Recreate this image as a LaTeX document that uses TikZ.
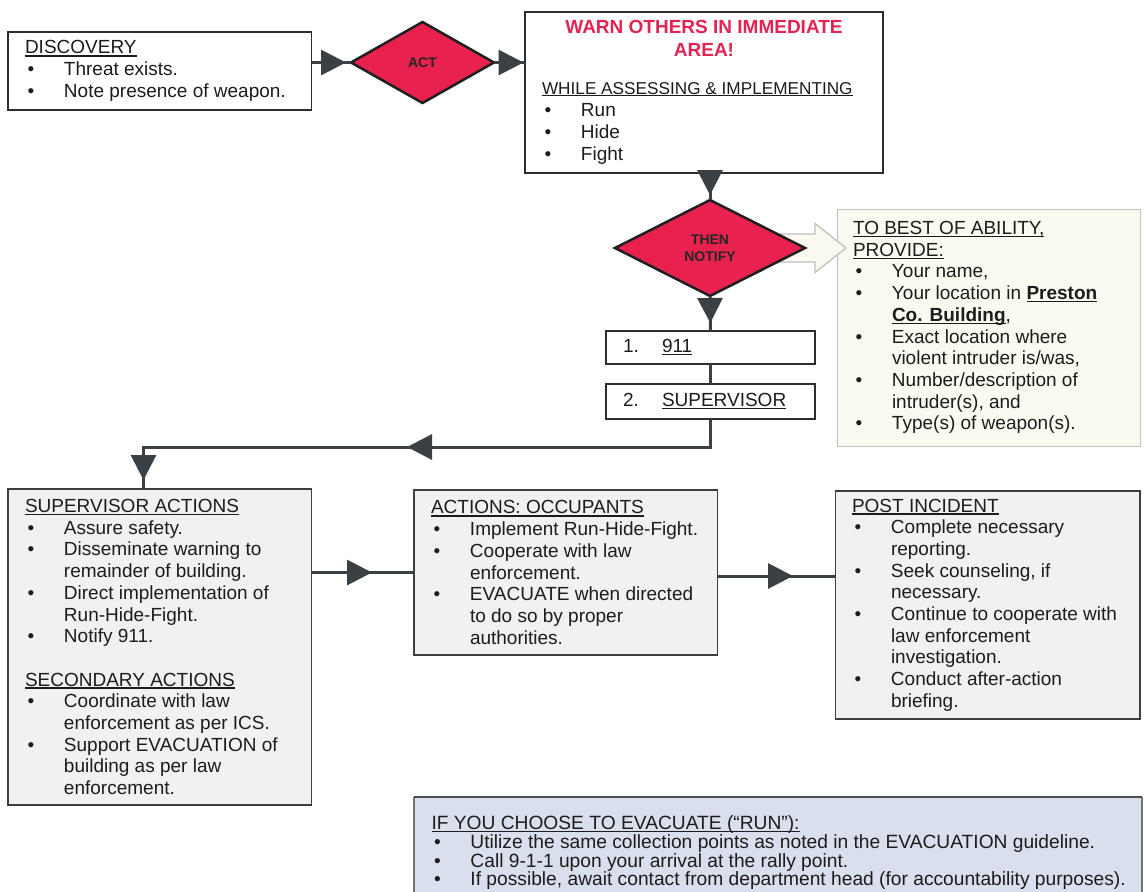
\documentclass[tikz,border=0pt]{standalone}
\usepackage{fontspec}
\setmainfont{Liberation Sans}
\usetikzlibrary{arrows.meta,decorations.markings,shapes.geometric,calc}

\definecolor{flowred}{RGB}{232,33,78}
\definecolor{warnred}{RGB}{226,36,82}
\definecolor{linec}{RGB}{58,64,68}
\definecolor{boxline}{RGB}{45,45,45}
\definecolor{panelfill}{RGB}{241,241,241}
\definecolor{panelline}{RGB}{62,62,62}
\definecolor{provfill}{RGB}{250,250,240}
\definecolor{provline}{RGB}{192,192,192}
\definecolor{evacfill}{RGB}{217,223,236}
\definecolor{bodytext}{RGB}{28,28,28}

% underline at a fixed depth below the baseline
\newsavebox\ulbox
\newcommand\undl[1]{\sbox\ulbox{#1}\rlap{\rule[-0.14em]{\wd\ulbox}{0.07em}}\usebox\ulbox}
% bullet item and continuation indent
\newcommand\itm{\makebox[39pt][l]{\hspace{2.5pt}\textbullet}}
\newcommand\contl{\hspace*{39pt}}

\pgfdeclarelayer{bglayer}
\pgfdeclarelayer{midlayer}
\pgfsetlayers{bglayer,midlayer,main}

\tikzset{
  box/.style={draw=boxline, line width=1.5pt, fill=white, inner sep=0pt, outer sep=0pt, anchor=north west},
  gbox/.style={box, fill=panelfill, draw=panelline, line width=1.3pt},
  txt/.style={inner sep=0pt, outer sep=0pt, align=left, anchor=west, text=bodytext},
  decision/.style={diamond, draw=black!88, line width=2.5pt, fill=flowred, inner sep=0pt, outer sep=0pt,
    font=\fontsize{14pt}{17pt}\selectfont\bfseries, text=black!85, align=center},
  conn/.style={draw=linec, line width=3pt},
  tipat/.style={postaction={decorate}, decoration={markings,
    mark=at position #1 with {\arrow{Triangle[length=25pt,width=25pt]}}}},
}

\begin{document}
\begin{tikzpicture}[x=1pt, y=-1pt, font=\fontsize{19pt}{21.7pt}\selectfont]
\useasboundingbox (0,0) rectangle (1144,892);
\begin{pgfonlayer}{bglayer}
\fill[white] (0,0) rectangle (1144,892);
\end{pgfonlayer}

% ---- top row ----
\node[box, minimum width=303.5pt, minimum height=78pt] (disc) at (8,32) {};
\node[txt] (discTxt) at ([xshift=17pt]disc.west)
  {\undl{DISCOVERY}\\ \itm Threat exists.\\ \itm Note presence of weapon.};

\node[decision, minimum width=143pt, minimum height=81pt] (act) at (422.5,62.5) {ACT};

\node[box, minimum width=358pt, minimum height=161pt] (warn) at (525,12) {};
\node[inner sep=0pt, align=center, text=warnred, font=\fontsize{19pt}{23pt}\selectfont\bfseries]
  (warnTitle) at ($(warn.north)+(0,26.5)$) {WARN OTHERS IN IMMEDIATE\\AREA!};
\node[txt, font=\fontsize{19pt}{22pt}\selectfont] (warnTxt) at ($(warn.west)+(17,30.5)$)
  {{\fontsize{17.2pt}{22pt}\selectfont\undl{WHILE ASSESSING \& IMPLEMENTING}}\\
   \itm Run\\ \itm Hide\\ \itm Fight};

% ---- notify column ----
\node[decision, minimum width=190pt, minimum height=96pt] (notify) at (710,248) {THEN\\NOTIFY};

\node[box, minimum width=209pt, minimum height=33pt] (b911) at (606,331) {};
\node[txt] (t911) at ([xshift=17pt]b911.west) {\makebox[39pt][l]{1.}\undl{911}};
\node[box, minimum width=209pt, minimum height=35pt] (bsup) at (606,384) {};
\node[txt] (tsup) at ([xshift=17pt]bsup.west) {\makebox[39pt][l]{2.}\undl{SUPERVISOR}};

\begin{pgfonlayer}{bglayer}
\node[box, fill=provfill, draw=provline, line width=1pt, minimum width=303pt, minimum height=237pt] (provide) at (837,209) {};
\end{pgfonlayer}
\node[txt] (provTxt) at ([xshift=16pt]provide.west)
  {\undl{TO BEST OF ABILITY,}\\ \undl{PROVIDE:}\\
   \itm Your name,\\
   \itm Your location in \undl{\textbf{Preston}}\\
   \contl\undl{\textbf{Co. Building}},\\
   \itm Exact location where\\ \contl violent intruder is/was,\\
   \itm Number/description of\\ \contl intruder(s), and\\
   \itm Type(s) of weapon(s).};

% hollow pointer from the decision to the information panel
\begin{pgfonlayer}{midlayer}
\path[draw=provline, line width=1.3pt, fill=provfill, line join=miter]
  ($(notify.east)+(-26,14)$) -- ($(notify.east)+(10,14)$) -- ($(notify.east)+(10,24.5)$)
  -- ($(provide.west |- notify.east)+(9,0)$)
  -- ($(notify.east)+(10,-24.5)$) -- ($(notify.east)+(10,-14)$) -- ($(notify.east)+(-26,-14)$) -- cycle;
\end{pgfonlayer}

% ---- action row ----
\node[gbox, minimum width=303.5pt, minimum height=316pt] (supact) at (8,489) {};
\node[txt] (supTxt) at ([xshift=17pt]supact.west)
  {\undl{SUPERVISOR ACTIONS}\\
   \itm Assure safety.\\
   \itm Disseminate warning to\\ \contl remainder of building.\\
   \itm Direct implementation of\\ \contl Run-Hide-Fight.\\
   \itm Notify 911.\\[21.7pt]
   \undl{SECONDARY ACTIONS}\\
   \itm Coordinate with law\\ \contl enforcement as per ICS.\\
   \itm Support EVACUATION of\\ \contl building as per law\\ \contl enforcement.};

\node[gbox, minimum width=303.5pt, minimum height=165pt] (occ) at (414,490) {};
\node[txt] (occTxt) at ([xshift=17pt]occ.west)
  {\undl{ACTIONS: OCCUPANTS}\\
   \itm Implement Run-Hide-Fight.\\
   \itm Cooperate with law\\ \contl enforcement.\\
   \itm EVACUATE when directed\\ \contl to do so by proper\\ \contl authorities.};

\node[gbox, minimum width=304.5pt, minimum height=228pt] (post) at (835.5,491) {};
\node[txt] (postTxt) at ([xshift=16.5pt]post.west)
  {\undl{POST INCIDENT}\\
   \itm Complete necessary\\ \contl reporting.\\
   \itm Seek counseling, if\\ \contl necessary.\\
   \itm Continue to cooperate with\\ \contl law enforcement\\ \contl investigation.\\
   \itm Conduct after-action\\ \contl briefing.};

% ---- evacuation note ----
\node[fill=evacfill, inner sep=0pt, outer sep=0pt, anchor=north west,
      minimum width=728pt, minimum height=97pt] (evac) at (414,797) {};
\draw[draw=black!55, line width=1.2pt] (evac.south west) -- (evac.north west);
\draw[draw=black!55, line width=1.2pt] (evac.north east) -- (evac.south east);
\draw[draw=black!70, line width=2pt] (evac.north west) -- (evac.north east);
\node[txt, anchor=north west, font=\fontsize{19.2pt}{18.8pt}\selectfont] (evacTxt)
  at ($(evac.north west)+(17.5,18.5)$)
  {\undl{IF YOU CHOOSE TO EVACUATE (“RUN”):}\\
   \itm Utilize the same collection points as noted in the EVACUATION guideline.\\
   \itm Call 9-1-1 upon your arrival at the rally point.\\
   \itm If possible, await contact from department head (for accountability purposes).};

% ---- connectors ----
\draw[conn, tipat=-5pt] (disc.east |- act.west) -- (act.west);
\draw[conn, tipat=-1.5pt] (act.east) -- (act.east -| warn.west);
\draw[conn, tipat=-5pt] (warn.south -| notify.north) -- (notify.north);
\draw[conn, tipat=-8pt] (notify.south) -- (b911.north);
\draw[conn] (b911.south) -- (bsup.north);
\coordinate (turn) at (143.5,447);
\draw[conn, postaction={decorate}, decoration={markings,
    mark=at position 331.5pt with {\arrow{Triangle[length=25pt,width=25pt]}},
    mark=at position -9pt with {\arrow{Triangle[length=25pt,width=25pt]}}}]
  (bsup.south) |- (turn) -- (turn |- supact.north);
\draw[conn, tipat=60.5pt] (occ.west -| supact.east) -- (occ.west);
\coordinate (occOut) at ($(occ.east)+(0,3.5)$);
\draw[conn, tipat=75.5pt] (occOut) -- (occOut -| post.west);
\end{tikzpicture}
\end{document}
